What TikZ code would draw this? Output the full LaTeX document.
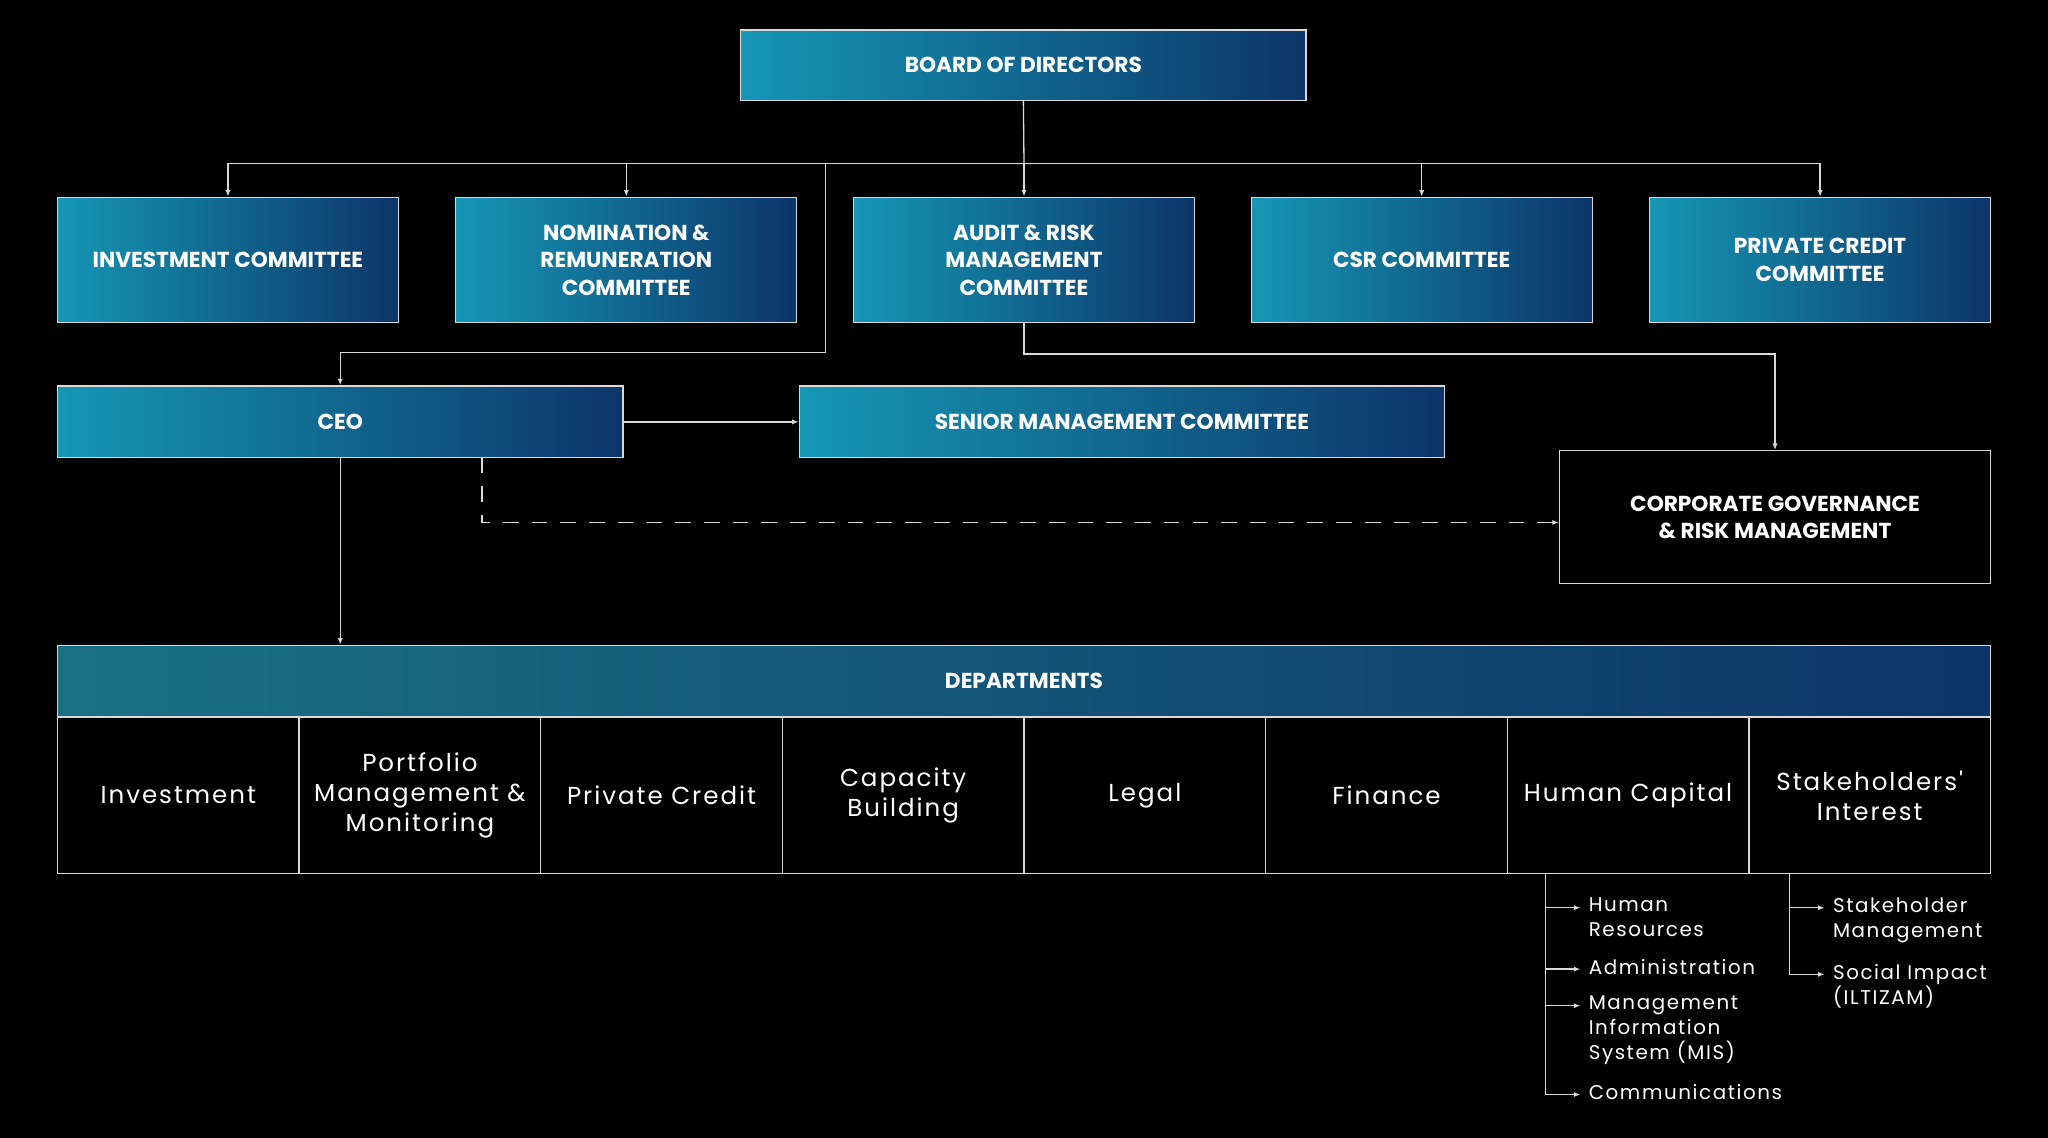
\documentclass[tikz,border=0pt]{standalone}
\usepackage{fontspec}
\setmainfont{Poppins}
\newfontfamily\wide[LetterSpace=8]{Poppins}
\usetikzlibrary{positioning,arrows.meta}
\definecolor{tealA}{HTML}{1597B5}
\definecolor{navyA}{HTML}{0C3568}
\definecolor{tealB}{HTML}{1A7184}
\tikzset{
  gbox/.style={draw=white!85!black,line width=0.5pt,left color=tealA,right color=navyA,
    text=white,font=\bfseries\fontsize{8.3}{10.5}\selectfont,align=center,inner sep=0pt},
  dbox/.style={draw=white!85!black,line width=0.5pt,fill=black,text=white,
    font=\wide\fontsize{9.4}{11.5}\selectfont,align=center,inner sep=0pt,
    minimum width=92.5pt,minimum height=60pt},
  conn/.style={draw=white!85!black,line width=0.5pt},
  arr/.style={conn,-{Latex[length=2.5pt,width=2pt]}},
  sub/.style={text=white,font=\wide\fontsize{7.6}{9.6}\selectfont,align=left,anchor=west,inner sep=0pt}
}
\begin{document}
\begin{tikzpicture}[x=0.5pt,y=-0.5pt]
  % background
  \fill[black] (0,0) rectangle (1568,871);
  \useasboundingbox (0,0) rectangle (1568,871);

  % Board and committees
  \node[gbox,minimum width=216.5pt,minimum height=27pt] (board) at (783.5,50) {BOARD OF DIRECTORS};
  \node[gbox,minimum width=130.5pt,minimum height=48pt] (inv) at (174.5,199) {INVESTMENT COMMITTEE};
  \node[gbox,minimum width=130.5pt,minimum height=48pt] (nom) at (479.5,199) {NOMINATION \&\\REMUNERATION\\COMMITTEE};
  \node[gbox,minimum width=130.5pt,minimum height=48pt] (aud) at (784,199) {AUDIT \& RISK\\MANAGEMENT\\COMMITTEE};
  \node[gbox,minimum width=130.5pt,minimum height=48pt] (csr) at (1088.5,199) {CSR COMMITTEE};
  \node[gbox,minimum width=130.5pt,minimum height=48pt] (pcc) at (1393.5,199) {PRIVATE CREDIT\\COMMITTEE};

  % CEO level
  \node[gbox,minimum width=216.5pt,minimum height=27.5pt] (ceo) at (260.5,323) {CEO};
  \node[gbox,minimum width=247pt,minimum height=27.5pt] (smc) at (859,323) {SENIOR MANAGEMENT COMMITTEE};
  \node[dbox,fill=black,font=\bfseries\fontsize{8.3}{10.5}\selectfont,minimum width=165pt,minimum height=51pt] (cg) at (1359,396) {CORPORATE GOVERNANCE\\\& RISK MANAGEMENT};

  % Departments
  \node[gbox,left color=tealB,minimum width=740pt,minimum height=27.5pt] (dep) at (784,521.5) {DEPARTMENTS};
  \foreach \t [count=\i] in {Investment,{Portfolio\\Management \&\\Monitoring},Private Credit,{Capacity\\Building},Legal,Finance,Human Capital,{Stakeholders'\\Interest}}
    \node[dbox] (d\i) at ({44+185*(\i-0.5)},609) {\t};

  % connectors
  \coordinate (bus) at (784,125);
  \draw[conn] (board.south) -- (bus);
  \draw[arr] (bus) -| (inv.north);
  \draw[arr] (bus) -| (nom.north);
  \draw[arr] (bus) -- (aud.north);
  \draw[arr] (bus) -| (csr.north);
  \draw[arr] (bus) -| (pcc.north);
  \draw[arr] (632,125) -- (632,270) -| (ceo.north);
  \draw[arr] (aud.south) -- (784,271) -| (cg.north);
  \draw[arr] (ceo.east) -- (smc.west);
  \draw[arr,dash pattern=on 6pt off 5pt] (369,350) -- (369,400) -- (cg.west |- 0,400);
  \draw[arr] (ceo.south) -- (dep.north -| ceo.south);

  % sub units
  \draw[conn] (1183,669) -- (1183,838);
  \foreach \y/\t in {695/{Human\\Resources},742/Administration,770/{Management\\Information\\System (MIS)},838/Communications}{
    \draw[arr] (1183,\y) -- (1210,\y);
    \node[sub,anchor=north west] at (1216,\y-8) {\t};
  }
  \draw[conn] (1370,669) -- (1370,746);
  \foreach \y/\t in {695/{Stakeholder\\Management},746/{Social Impact\\(ILTIZAM)}}{
    \draw[arr] (1370,\y) -- (1397,\y);
    \node[sub,anchor=north west] at (1403,\y-8) {\t};
  }
\end{tikzpicture}
\end{document}
